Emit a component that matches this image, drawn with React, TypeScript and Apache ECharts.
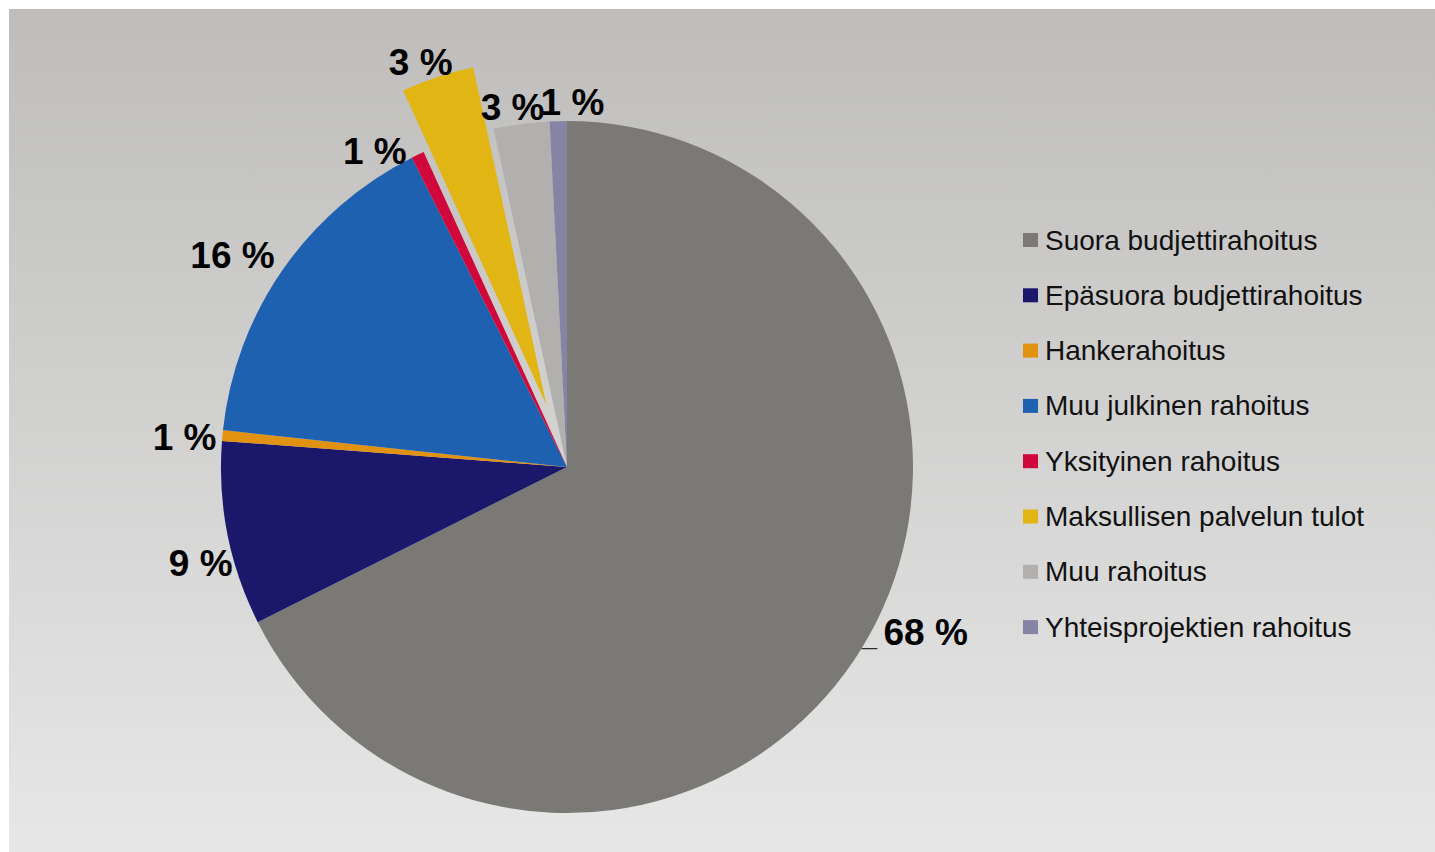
import React, { useEffect, useRef } from 'react';
import * as echarts from 'echarts';

const categories = [
  'Suora budjettirahoitus',
  'Epäsuora budjettirahoitus',
  'Hankerahoitus',
  'Muu julkinen rahoitus',
  'Yksityinen rahoitus',
  'Maksullisen palvelun tulot',
  'Muu rahoitus',
  'Yhteisprojektien rahoitus',
];
const shares = [67.6, 8.6, 0.5, 15.9, 0.6, 3.4, 2.6, 0.8];
const colors = ['#7a7975', '#1b176a', '#e19210', '#1f61b1', '#d0073b', '#e0b514', '#b1b0ae', '#8684a4'];
const explodedCategory = 'Maksullisen palvelun tulot';
const leaderCategory = 'Suora budjettirahoitus';
// label nudges (px) relative to the default outside anchor
const labelShift: number[][] = [[2, -16], [9, 30], [-2, 2], [-4, -14], [-7, -3], [19, -14], [27, -17], [50, -19]];

export default function App() {
  const ref = useRef<HTMLDivElement>(null);
  useEffect(() => {
    if (!ref.current) return;
    const chart = echarts.init(ref.current, null, { renderer: 'svg' });
    const data = categories.map((name, i) => {
      const item: any = { name, value: shares[i], itemStyle: { color: colors[i] } };
      if (name === explodedCategory) item.selected = true;
      if (name === leaderCategory) {
        item.labelLine = { show: true, length: 0, length2: 16, lineStyle: { color: '#000', width: 1 } };
      }
      return item;
    });
    chart.setOption({
      animation: false,
      graphic: [
        {
          type: 'rect',
          z: -10,
          silent: true,
          shape: { x: 9, y: 9, width: 1426, height: 843 },
          style: {
            fill: new echarts.graphic.LinearGradient(0, 0, 0, 1, [
              { offset: 0, color: '#bebdbb' },
              { offset: 1, color: '#e7e7e7' },
            ]),
          },
        },
      ],
      legend: {
        orient: 'vertical',
        left: 1018,
        top: 220,
        padding: 5,
        icon: 'rect',
        itemWidth: 15,
        itemHeight: 14,
        itemGap: 25.3,
        selectedMode: false,
        data: categories,
        textStyle: {
          fontFamily: 'Liberation Sans',
          fontSize: 28,
          lineHeight: 30,
          color: '#111',
          padding: [0, 0, 0, 2],
        },
      },
      series: [
        {
          type: 'pie',
          center: [567, 467],
          radius: [0, 346],
          startAngle: 90,
          clockwise: true,
          selectedMode: 'single',
          selectedOffset: 65,
          avoidLabelOverlap: false,
          data,
          itemStyle: { borderWidth: 0 },
          select: { itemStyle: { borderWidth: 0 } },
          emphasis: { disabled: true },
          label: {
            show: true,
            position: 'outside',
            distanceToLabelLine: 4,
            fontFamily: 'Liberation Sans',
            fontWeight: 'bold',
            fontSize: 37,
            color: '#000',
            formatter: (p: any) => Math.round(p.value) + ' %',
          },
          labelLine: { show: false, length: 0, length2: 0 },
          labelLayout: (params: any) => {
            const s = labelShift[params.dataIndex];
            return { dx: s[0], dy: s[1] };
          },
        },
      ],
    });
    return () => chart.dispose();
  }, []);
  return (
    <div
      ref={ref}
      style={{ position: 'absolute', left: 0, top: 0, width: 1435, height: 852 }}
    />
  );
}
